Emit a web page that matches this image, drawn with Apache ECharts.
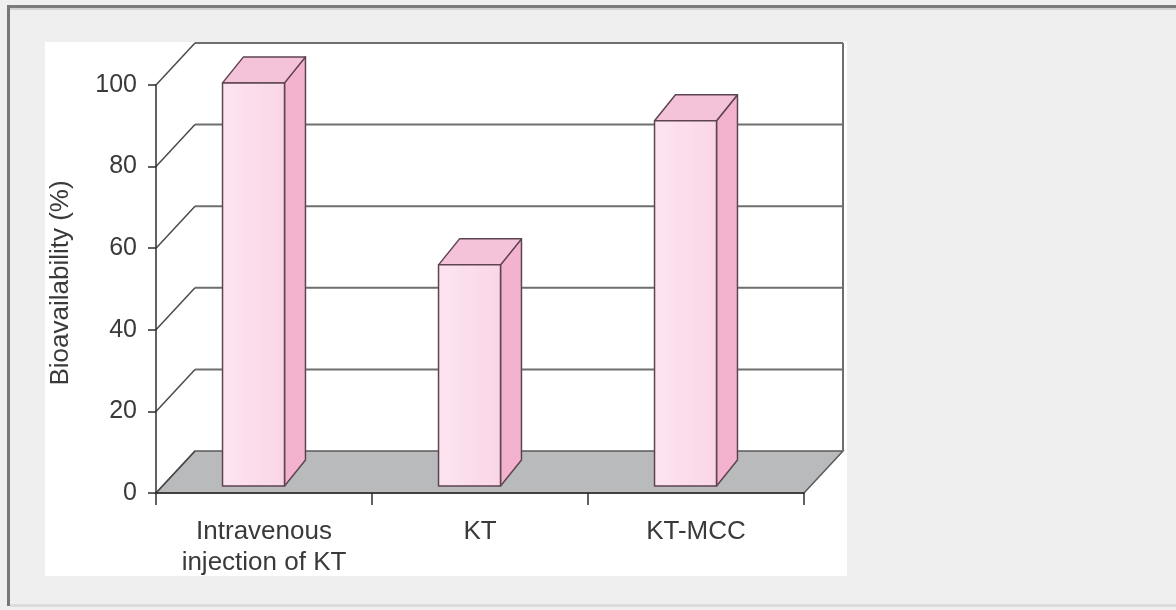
<!DOCTYPE html>
<html>
<head>
<meta charset="utf-8">
<style>
  html, body { margin: 0; padding: 0; background: #efefef; }
  #chart { width: 1176px; height: 610px; }
</style>
<script src="https://cdn.jsdelivr.net/npm/echarts@6/dist/echarts.min.js"></script>
</head>
<body>
<div id="chart"></div>
<script>
// Bioavailability of ketoconazole formulations
const categories = ['Intravenous\ninjection of KT', 'KT', 'KT-MCC'];
const bioavailability = [98.8, 54.2, 89.5];
const yTicks = [0, 20, 40, 60, 80, 100];

const FONT = '"Liberation Sans", Arial, Helvetica, sans-serif';
const TEXT = '#3a3a3a';
const WALL = { dx: 39, dy: -42 };      // depth of the back wall
const BAR_DEPTH = { dx: 0.097, dy: -26 }; // side depth (fraction of band, px)
const BAR_FACE = 0.287;               // front face width, fraction of band
const BAR_INSET = 7;                  // bars stand slightly into the floor

const chart = echarts.init(document.getElementById('chart'), null, { renderer: 'canvas' });

// back wall, left wall diagonals and the grey floor
function renderFrame(params, api) {
  const cs = params.coordSys;
  const v = api.value(0);
  const p = api.coord([0, v]);
  const y = p[1];
  const x0 = cs.x, x1 = cs.x + cs.width;
  const line = { stroke: '#6f6f6f', lineWidth: 2 };
  const children = [];
  if (v === 0) {
    children.push({
      type: 'polygon',
      shape: { points: [[x0, y], [x1, y], [x1 + WALL.dx, y + WALL.dy], [x0 + WALL.dx, y + WALL.dy]] },
      style: { fill: '#b9babc', stroke: '#5a5a5a', lineWidth: 1.5 },
      z2: 0
    });
    children.push({
      type: 'line',
      shape: { x1: x1 + WALL.dx, y1: y + WALL.dy, x2: x1 + WALL.dx, y2: cs.y + WALL.dy },
      style: line
    });
  } else {
    children.push({
      type: 'line',
      shape: { x1: x0 + WALL.dx, y1: y + WALL.dy, x2: x1 + WALL.dx, y2: y + WALL.dy },
      style: line
    });
  }
  children.push({
    type: 'line',
    shape: { x1: x0, y1: y, x2: x0 + WALL.dx, y2: y + WALL.dy },
    style: { stroke: '#4a4a4a', lineWidth: 1.5 }
  });
  return { type: 'group', children };
}

// pink 3D columns
function renderBar(params, api) {
  const idx = api.value(0);
  const val = api.value(1);
  const top = api.coord([idx, val]);
  const base = api.coord([idx, 0]);
  const band = api.size([1, 0])[0];
  const faceW = band * BAR_FACE;
  const sdx = band * BAR_DEPTH.dx, sdy = BAR_DEPTH.dy;
  const left = base[0] - (faceW + sdx) / 2;
  const right = left + faceW;
  const by = base[1] - BAR_INSET;
  const ty = top[1] - BAR_INSET;
  const edge = { stroke: '#5e4452', lineWidth: 1.5, lineJoin: 'round' };
  return {
    type: 'group',
    children: [
      {
        type: 'polygon',
        shape: { points: [[right, ty], [right + sdx, ty + sdy], [right + sdx, by + sdy], [right, by]] },
        style: Object.assign({ fill: '#f3b3cf' }, edge)
      },
      {
        type: 'polygon',
        shape: { points: [[left, ty], [left + sdx, ty + sdy], [right + sdx, ty + sdy], [right, ty]] },
        style: Object.assign({ fill: '#f4c2d9' }, edge)
      },
      {
        type: 'rect',
        shape: { x: left, y: ty, width: faceW, height: by - ty },
        style: Object.assign({
          fill: new echarts.graphic.LinearGradient(0, 0, 1, 0, [
            { offset: 0, color: '#fde4f0' },
            { offset: 1, color: '#f9d6e7' }
          ])
        }, edge)
      }
    ]
  };
}

chart.setOption({
  backgroundColor: '#efefef',
  animation: false,
  graphic: [
    { type: 'rect', z: -10, shape: { x: 7, y: 5, width: 1169, height: 3 }, style: { fill: '#7b7b7b' } },
    { type: 'rect', z: -10, shape: { x: 10, y: 8, width: 1166, height: 2 }, style: { fill: '#d2d2d2' } },
    { type: 'rect', z: -10, shape: { x: 7, y: 5, width: 3, height: 601 }, style: { fill: '#777777' } },
    { type: 'rect', z: -10, shape: { x: 10, y: 604, width: 1166, height: 3 }, style: { fill: '#dcdcdc' } },
    { type: 'rect', z: -10, shape: { x: 45, y: 42, width: 802, height: 534 }, style: { fill: '#ffffff' } },
    {
      type: 'text', z: 10, x: 61, y: 283, rotation: Math.PI / 2,
      style: {
        text: 'Bioavailability (%)', fill: TEXT, font: '26px ' + FONT,
        align: 'center', verticalAlign: 'middle'
      }
    }
  ],
  grid: { left: 156, right: 372, top: 85, bottom: 117, containLabel: false },
  xAxis: {
    type: 'category',
    data: categories,
    boundaryGap: true,
    axisLine: { show: true, lineStyle: { color: '#2e2e2e', width: 1.5 } },
    axisTick: { show: true, interval: 0, length: 12, lineStyle: { color: '#2e2e2e', width: 1.5 } },
    axisLabel: {
      interval: 0, margin: 23, color: TEXT, fontSize: 26, lineHeight: 31, fontFamily: FONT
    },
    splitLine: { show: false },
    z: 5
  },
  yAxis: {
    type: 'value',
    min: 0, max: 100, interval: 20,
    axisLine: { show: true, lineStyle: { color: '#2e2e2e', width: 1.5 } },
    axisTick: { show: true, length: 8, lineStyle: { color: '#2e2e2e', width: 1.5 } },
    axisLabel: { margin: 19, color: TEXT, fontSize: 25, fontFamily: FONT },
    splitLine: { show: false },
    z: 5
  },
  series: [
    {
      type: 'custom',
      name: 'frame',
      clip: false,
      z: 1,
      silent: true,
      renderItem: renderFrame,
      data: yTicks.map(t => [t]),
      encode: { y: 0 }
    },
    {
      type: 'custom',
      name: 'Bioavailability',
      clip: false,
      z: 3,
      renderItem: renderBar,
      data: bioavailability.map((v, i) => [i, v]),
      encode: { x: 0, y: 1 }
    }
  ]
});
</script>
</body>
</html>
